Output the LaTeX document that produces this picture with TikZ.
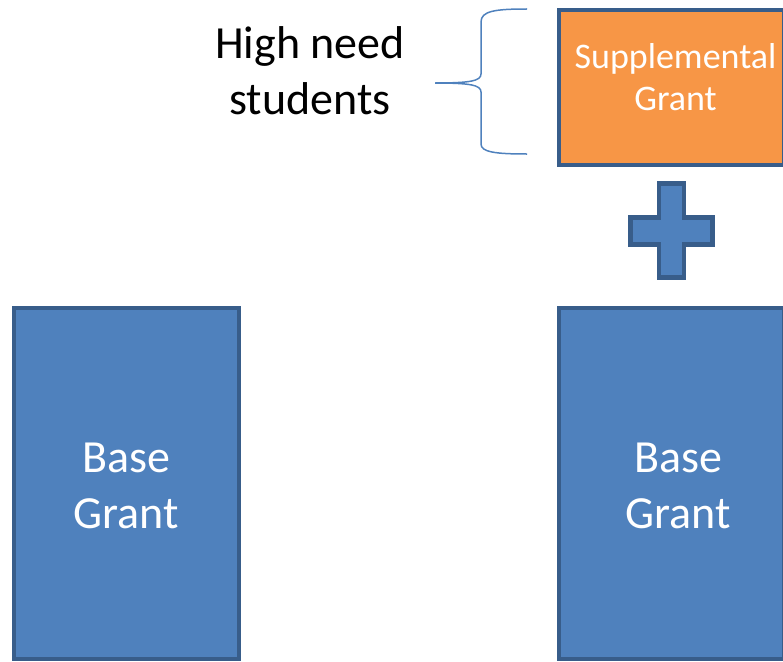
\documentclass[tikz,border=0pt]{standalone}
\usepackage{fontspec}
\setmainfont{Carlito}
\usetikzlibrary{positioning}
\definecolor{grantblue}{HTML}{4F81BD}
\definecolor{grantedge}{HTML}{385D8A}
\definecolor{grantorange}{HTML}{F79646}
\tikzset{grant/.style={rectangle,draw=grantedge,line width=4pt,fill=grantblue,minimum width=225pt,minimum height=351pt,inner sep=0pt}}
\tikzset{extra/.style={grant,fill=grantorange,minimum height=155pt}}
\tikzset{big/.style={align=center,text=white,anchor=base,inner sep=0pt,font=\fontsize{46}{56}\selectfont}}
\tikzset{small/.style={big,font=\fontsize{36}{42}\selectfont}}
\tikzset{crossbar/.style={draw=grantedge,line width=4.5pt,fill=grantblue,line join=miter}}

\begin{document}
\begin{tikzpicture}[x=1pt,y=-1pt]
    \useasboundingbox (0,0) rectangle (783,661);
    \clip (0,0) rectangle (783,661);

    \node[grant] (base1) at (126.5,483.5) {};
    \node[grant] (base2) at (671,483.5) {};
    \node[extra] (supp) at (671,87.5) {};

    \node[big] (lbase1) at (126,528) {Base\\Grant};
    \node[big] (lbase2) at (678,528) {Base\\Grant};
    \node[small] (lsupp) at (675.5,110) {Supplemental\\Grant};
    \node[big,text=black] (need) at (310,114) {High need\\students};

    % plus sign
    \path[crossbar] (659,183.5) -- (684,183.5) -- (684,217.5) -- (712.5,217.5)
        -- (712.5,244.5) -- (684,244.5) -- (684,277.5) -- (659,277.5)
        -- (659,244.5) -- (630.5,244.5) -- (630.5,217.5) -- (659,217.5) -- cycle;

    % brace
    \coordinate (btop) at (527,9);
    \coordinate (btip) at (435,83);
    \coordinate (bbot) at (527,154);
    \draw[grantblue,line width=1.5pt] (btop) .. controls (495,9) and (481,11) .. (481,22)
        -- (481,74) .. controls (481,81) and (470,83) .. (btip)
        .. controls (470,83) and (481,85) .. (481,92)
        -- (481,144) .. controls (481,152) and (495,154) .. (bbot);
\end{tikzpicture}
\end{document}
